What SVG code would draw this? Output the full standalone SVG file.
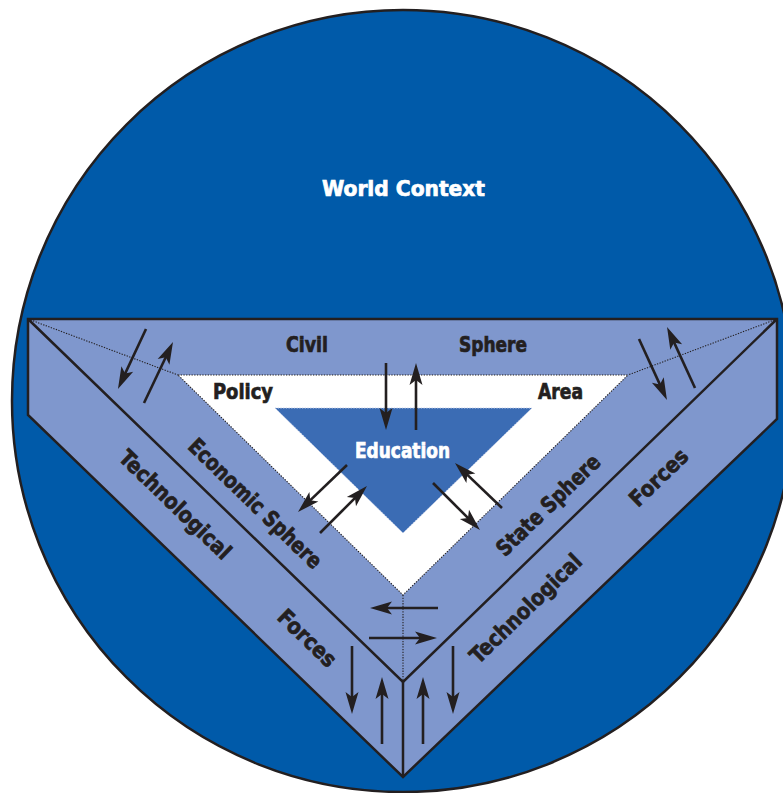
<svg xmlns="http://www.w3.org/2000/svg" width="783" height="793" viewBox="0 0 783 793">
  <style>
    .edge { stroke: #231f20; stroke-width: 2.5; stroke-linejoin: miter; }
    .dots { stroke: #231f20; stroke-width: 1.1; stroke-dasharray: 1.3 1.4; fill: none; }
    .arrow { stroke: #231f20; stroke-width: 2.6; fill: none; marker-end: url(#head); }
    .lbl { font-family: "Liberation Sans Narrow", "DejaVu Sans Condensed", "Liberation Sans", sans-serif; font-weight: bold; fill: #231f20; stroke: #231f20; stroke-width: 0.7; text-anchor: middle; font-size: 22px; }
    .wlbl { fill: #ffffff; stroke: #ffffff; }
  </style>
  <defs>
    <marker id="head" markerUnits="userSpaceOnUse" markerWidth="24" markerHeight="14" refX="12" refY="0" orient="auto" overflow="visible">
      <path d="M0,-6.5 L22,0 L0,6.5 L5,0 Z" fill="#231f20"/>
    </marker>
  </defs>

  <!-- world circle -->
  <g id="world">
    <circle cx="403" cy="401" r="391" fill="#005aa9" stroke="#231f20" stroke-width="2.5"/>
    <text class="lbl wlbl" x="403.5" y="196" font-size="29" textLength="163" lengthAdjust="spacingAndGlyphs">World Context</text>
  </g>

  <!-- technological forces band (outer V) -->
  <g id="tech-band">
    <polygon class="edge" points="28,319 777,319 777,419 403,777 28,415" fill="#7f97cd"/>
    <polyline class="edge" fill="none" points="28,319 403,682 777,319"/>
    <line class="edge" x1="403" y1="682" x2="403" y2="777"/>
    <line class="dots" x1="28" y1="319" x2="178" y2="375"/>
    <line class="dots" x1="777" y1="319" x2="628" y2="375"/>
    <line class="dots" x1="403" y1="595" x2="403" y2="682"/>
  </g>

  <!-- policy area -->
  <g id="policy-area">
    <polygon points="178,375 628,375 403,595" fill="#ffffff"/>
    <polygon class="dots" points="178,375 628,375 403,595"/>
  </g>

  <!-- education -->
  <g id="education">
    <polygon points="275,408 532,408 403,533" fill="#3b6cb4" stroke="#c9d2ea" stroke-width="1" stroke-dasharray="1.3 1.4"/>
    <text class="lbl wlbl" x="402.5" y="458" textLength="95" lengthAdjust="spacingAndGlyphs">Education</text>
  </g>

  <!-- labels of the spheres and forces -->
  <g id="civil-sphere">
    <text class="lbl" x="307" y="352" textLength="42" lengthAdjust="spacingAndGlyphs">Civil</text>
    <text class="lbl" x="493" y="352" textLength="68" lengthAdjust="spacingAndGlyphs">Sphere</text>
  </g>
  <g id="policy-labels">
    <text class="lbl" x="243" y="399" textLength="60" lengthAdjust="spacingAndGlyphs">Policy</text>
    <text class="lbl" x="560.5" y="399" textLength="45" lengthAdjust="spacingAndGlyphs">Area</text>
  </g>
  <g id="economic-sphere">
    <text class="lbl" transform="translate(250,509) rotate(44)" textLength="176" lengthAdjust="spacingAndGlyphs">Economic Sphere</text>
  </g>
  <g id="state-sphere">
    <text class="lbl" transform="translate(553.5,510.5) rotate(-44)" textLength="135" lengthAdjust="spacingAndGlyphs">State Sphere</text>
  </g>
  <g id="tech-left">
    <text class="lbl" transform="translate(170,510) rotate(44)" textLength="146" lengthAdjust="spacingAndGlyphs">Technological</text>
    <text class="lbl" transform="translate(302,643.5) rotate(44)" textLength="72" lengthAdjust="spacingAndGlyphs">Forces</text>
  </g>
  <g id="tech-right">
    <text class="lbl" transform="translate(531,614) rotate(-44)" textLength="146" lengthAdjust="spacingAndGlyphs">Technological</text>
    <text class="lbl" transform="translate(664,483) rotate(-44)" textLength="72" lengthAdjust="spacingAndGlyphs">Forces</text>
  </g>

  <!-- interaction arrows -->
  <g id="connectors">
    <line class="arrow" x1="146" y1="329" x2="122.2" y2="379.9"/>
    <line class="arrow" x1="144" y1="403" x2="168.7" y2="351"/>
    <line class="arrow" x1="639" y1="339" x2="662.8" y2="390.9"/>
    <line class="arrow" x1="695" y1="388" x2="671.2" y2="336.1"/>
    <line class="arrow" x1="386" y1="363" x2="386" y2="420"/>
    <line class="arrow" x1="416" y1="430" x2="416" y2="373"/>
    <line class="arrow" x1="347" y1="465" x2="305.2" y2="505.1"/>
    <line class="arrow" x1="320" y1="533" x2="359.9" y2="493.1"/>
    <line class="arrow" x1="433" y1="483" x2="472.9" y2="522.9"/>
    <line class="arrow" x1="502" y1="508" x2="462.2" y2="469.9"/>
    <line class="arrow" x1="438" y1="608" x2="380" y2="608"/>
    <line class="arrow" x1="369" y1="638" x2="427" y2="638"/>
    <line class="arrow" x1="352" y1="646" x2="352" y2="704"/>
    <line class="arrow" x1="382" y1="744" x2="382" y2="687"/>
    <line class="arrow" x1="423" y1="744" x2="423" y2="687"/>
    <line class="arrow" x1="453" y1="646" x2="453" y2="704"/>
  </g>
</svg>
